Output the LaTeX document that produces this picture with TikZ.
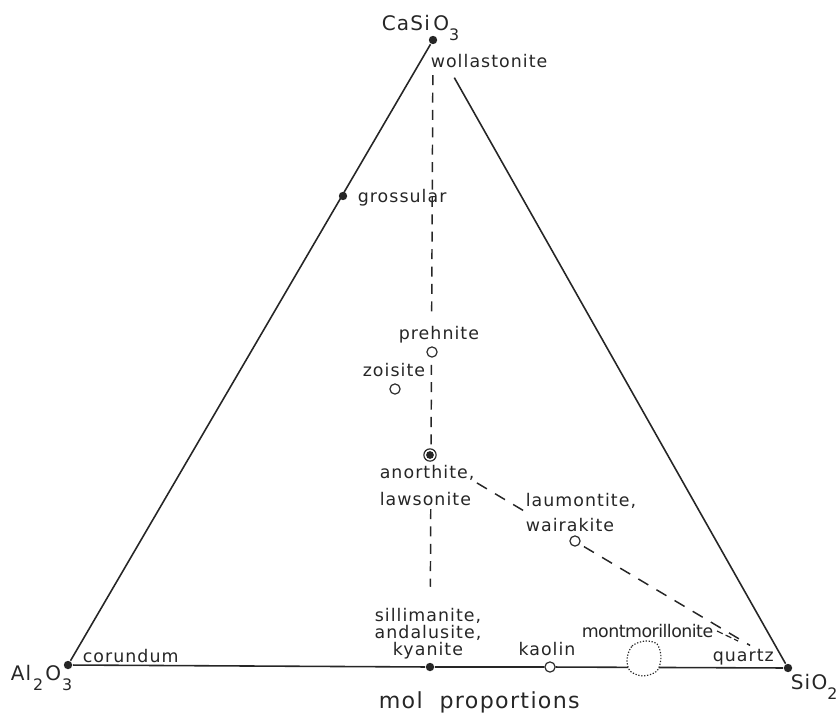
\documentclass[tikz,border=0pt]{standalone}
\usepackage{fontspec}
\setmainfont{DejaVu Sans}[LetterSpace=6]
\usetikzlibrary{calc}
\newcommand\lowr[1]{\raisebox{-9.5pt}{\fontsize{15}{15}\selectfont #1}}

\begin{document}
\begin{tikzpicture}[
    x=0.3333mm, y=-0.3333mm,
    font=\fontsize{16.5}{20}\selectfont,
    line width=1.5pt,
    color=black!85,
    fdot/.style={circle, fill, inner sep=0pt, minimum size=2.8mm},
    odot/.style={circle, draw, fill=white, inner sep=0pt, minimum size=3.4mm, line width=1.1pt},
    adot/.style={odot, minimum size=4.1mm, path picture={\fill[black!85] (path picture bounding box.center) circle (1.3mm);}},
    tie/.style={dash pattern=on 9.5pt off 7pt, line width=1.4pt},
    lbl/.style={inner sep=0pt, anchor=base west},
    formula/.style={lbl, font=\fontsize{19}{20}\selectfont}
]
\useasboundingbox (0,0) rectangle (838,718);

% phases
\node[fdot] (wo) at (433,40) {};
\node[fdot] (gr) at (343,196) {};
\node[odot] (pr) at (432,352) {};
\node[odot] (zo) at (395,389) {};
\node[adot] (an) at (430,455) {};
\node[odot] (lm) at (575,541) {};
\node[fdot] (al) at (68,665) {};
\node[fdot] (ky) at (430,667) {};
\node[odot] (ka) at (550,667) {};
\node[fdot] (si) at (788,668) {};

% triangle
\draw (wo) -- (al);
\draw ($(wo)!0.06!(si)$) -- (si);
\draw (al) -- (ky) -- (ka) -- (si);

% tie lines
\draw[tie] ($(wo)!0.056!(ky)$) -- ($(wo)!0.438!(ky)$);
\draw[tie] ($(wo)!0.518!(ky)$) -- ($(wo)!0.652!(ky)$);
\draw[tie] ($(wo)!0.748!(ky)$) -- ($(wo)!0.872!(ky)$);
\draw[tie, dash pattern=on 11pt off 9pt] ($(an)!0.131!(si)$) -- ($(an)!0.265!(si)$);
\draw[tie, dash pattern=on 11pt off 9pt] ($(an)!0.430!(si)$) -- ($(an)!0.894!(si)$);

% montmorillonite field
\draw[line width=1.1pt, dash pattern=on 1.2pt off 1.6pt, fill=white]
    plot[smooth cycle] coordinates {(627,659) (632,646) (645,641) (657,644) (661,657) (657,671) (643,676) (630,671)};

% labels
\node[formula] (caL) at (381,30) {CaSi\,O\lowr{3}};
\node[lbl] (woL) at (430,67) {wollastonite};
\node[lbl] (grL) at (357,202) {grossular};
\node[lbl] (prL) at (398,339) {prehnite};
\node[lbl] (zoL) at (362,376) {zoisite};
\node[inner sep=0pt, anchor=north west, align=left] (anL) at (379,464) {anorthite,\\[6.5pt]lawsonite};
\node[inner sep=0pt, anchor=north west, align=left] (lmL) at (525,492) {laumontite,\\[3.7pt]wairakite};
\node[inner sep=0pt, anchor=north, align=center] (kyL) at (428,607) {sillimanite,\\[-3.5pt]andalusite,\\[-3.5pt]kyanite};
\node[inner sep=0pt, anchor=base] (kaL) at (547,655) {kaolin};
\node[lbl] (mmL) at (581,637) {\addfontfeature{LetterSpace=-3}montmorillonite};
\coordinate (mmE) at (738,641);
\draw[line width=1.1pt, dash pattern=on 6pt off 3pt] ($(mmL.base east)+(3,-6)$) -- (mmE);
\node[lbl] (qzL) at (712,661) {quartz};
\node[lbl] (coL) at (82,662) {corundum};
\node[formula] (alL) at (10,680) {A\kern1pt l\kern2pt\lowr{2}\kern2pt O\kern1pt\lowr{3}};
\node[formula] (siL) at (790,689) {SiO\lowr{2}};
\node[lbl, font=\fontsize{21}{22}\selectfont] (molL) at (378,708) {mol\hspace{16pt}proportions};
\end{tikzpicture}
\end{document}
